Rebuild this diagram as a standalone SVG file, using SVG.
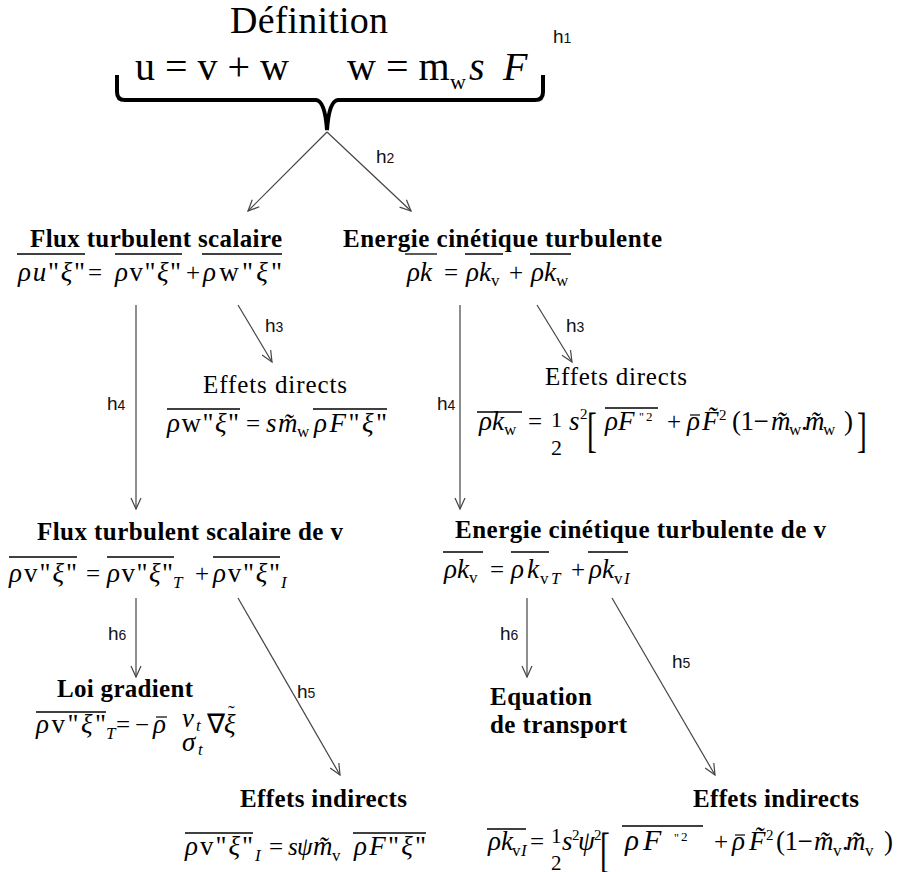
<svg xmlns="http://www.w3.org/2000/svg" width="898" height="872" viewBox="0 0 898 872">
<style>
svg{font-size:27px}
text{font-family:"Liberation Serif","Times New Roman",serif;fill:#000}
.b{font-weight:bold;font-size:25px}
.r{font-size:25px}
.o{font-size:25px}
.i{font-style:italic}
.s{font-size:17px}
.sp{font-size:15px}
.h{font-family:"Liberation Sans",Arial,sans-serif;font-size:19px;fill:#111}
.hs{font-size:14px}
.ol{stroke:#000;stroke-width:1.3}
.mc{stroke:#000;stroke-width:1.2}
.c{stroke:#444;stroke-width:1.2;fill:none}
</style>
<defs>
<marker id="ar" markerUnits="userSpaceOnUse" markerWidth="14" markerHeight="14" viewBox="0 0 14 14" refX="12" refY="6" orient="auto">
<path d="M1,1 L12,6 L1,11" fill="none" stroke="#444" stroke-width="1.2"/>
</marker>
</defs>
<rect width="898" height="872" fill="#fff"/>

<g id="definition">
<text x="230" y="33" font-size="38" textLength="158">Définition</text>
<text x="135" y="80" font-size="40">u = v + w</text>
<text x="347" y="80" font-size="40">w = m</text>
<text x="450" y="89" font-size="22">w</text>
<text x="469" y="80" font-size="40" class="i">s</text>
<text x="503" y="80" font-size="40" class="i">F</text>
<path d="M117,75 L117,92 Q117,100 125,100 L316,100 Q325,101 327,130 Q329,101 338,100 L535,100 Q543,100 543,92 L543,75" fill="none" stroke="#000" stroke-width="4"/>
<text class="h" x="553" y="43">h<tspan class="hs">1</tspan></text>
</g>

<g id="connectors">
<line class="c" x1="327" y1="132" x2="248" y2="211" marker-end="url(#ar)"/>
<line class="c" x1="327" y1="132" x2="411" y2="211" marker-end="url(#ar)"/>
<line class="c" x1="136" y1="305" x2="136" y2="509" marker-end="url(#ar)"/>
<line class="c" x1="238" y1="305" x2="272" y2="362" marker-end="url(#ar)"/>
<line class="c" x1="460" y1="305" x2="460" y2="509" marker-end="url(#ar)"/>
<line class="c" x1="537" y1="305" x2="572" y2="362" marker-end="url(#ar)"/>
<line class="c" x1="136" y1="598" x2="136" y2="677" marker-end="url(#ar)"/>
<line class="c" x1="238" y1="598" x2="340" y2="775" marker-end="url(#ar)"/>
<line class="c" x1="527" y1="598" x2="527" y2="677" marker-end="url(#ar)"/>
<line class="c" x1="612" y1="598" x2="715" y2="775" marker-end="url(#ar)"/>
<text class="h" x="376" y="163">h<tspan class="hs">2</tspan></text>
<text class="h" x="265" y="332">h<tspan class="hs">3</tspan></text>
<text class="h" x="566" y="332">h<tspan class="hs">3</tspan></text>
<text class="h" x="107" y="410">h<tspan class="hs">4</tspan></text>
<text class="h" x="437" y="410">h<tspan class="hs">4</tspan></text>
<text class="h" x="108" y="640">h<tspan class="hs">6</tspan></text>
<text class="h" x="500" y="640">h<tspan class="hs">6</tspan></text>
<text class="h" x="297" y="698">h<tspan class="hs">5</tspan></text>
<text class="h" x="672" y="668">h<tspan class="hs">5</tspan></text>
</g>

<g id="flux">
<text class="b" x="30" y="247" textLength="252">Flux turbulent scalaire</text>
<text x="18" y="281" textLength="67"><tspan class="i">ρu</tspan>"<tspan class="i">ξ</tspan>"</text>
<text x="88" y="281" class="o">=</text>
<text x="115" y="281" textLength="66"><tspan class="i">ρ</tspan>v"<tspan class="i">ξ</tspan>"</text>
<text x="186" y="281" class="o">+</text>
<text x="203" y="281" textLength="79"><tspan class="i">ρ</tspan>w"<tspan class="i">ξ</tspan>"</text>
<line class="ol" x1="17" y1="254" x2="85" y2="254"/>
<line class="ol" x1="115" y1="254" x2="182" y2="254"/>
<line class="ol" x1="202" y1="254" x2="282" y2="254"/>
</g>

<g id="energie">
<text class="b" x="343" y="247" textLength="319">Energie cinétique turbulente</text>
<text x="407" y="281" class="i">ρk</text>
<text x="444" y="281" class="o">=</text>
<text x="466" y="281" class="i">ρk</text>
<text x="491" y="286" class="s">v</text>
<text x="509" y="281" class="o">+</text>
<text x="531" y="281" class="i">ρk</text>
<text x="556" y="286" class="s">w</text>
<line class="ol" x1="405" y1="254" x2="437" y2="254"/>
<line class="ol" x1="465" y1="254" x2="503" y2="254"/>
<line class="ol" x1="530" y1="254" x2="571" y2="254"/>
</g>

<g id="directs-flux">
<text class="r" x="203" y="393" textLength="144">Effets  directs</text>
<text x="167" y="432" textLength="72"><tspan class="i">ρ</tspan>w"<tspan class="i">ξ</tspan>"</text>
<text x="246" y="432" class="o">=</text>
<text x="266" y="432" class="i">s</text>
<text x="278" y="432" class="i">m̃</text>
<text x="297" y="437" class="s">w</text>
<text x="314" y="432" textLength="73"><tspan class="i">ρF</tspan>"<tspan class="i">ξ</tspan>"</text>
<line class="ol" x1="167" y1="409" x2="240" y2="409"/>
<line class="ol" x1="313" y1="409" x2="387" y2="409"/>
</g>

<g id="directs-energie">
<text class="r" x="545" y="385" textLength="142">Effets  directs</text>
<text x="479" y="430" class="i">ρk</text>
<text x="504" y="435" class="s">w</text>
<line class="ol" x1="477" y1="412" x2="522" y2="412"/>
<text x="528" y="430" class="o">=</text>
<text x="551" y="427" font-size="22">1</text>
<text x="551" y="455" font-size="22">2</text>
<text x="569" y="430" class="i">s</text>
<text x="580" y="419" class="sp">2</text>
<text transform="translate(587,446) scale(0.7,1.15)" font-size="42">[</text>
<text x="605" y="430" class="i">ρF</text>
<text x="639" y="421" font-size="12">"</text>
<text x="646" y="421" font-size="13">2</text>
<line class="ol" x1="605" y1="408" x2="658" y2="408"/>
<text x="667" y="430" class="o">+</text>
<text x="687" y="430" class="i">ρ</text>
<line class="mc" x1="690" y1="415" x2="700" y2="415"/>
<text x="702" y="430" class="i">F̃</text>
<text x="719" y="420" class="sp">2</text>
<text x="732" y="430" letter-spacing="-0.5">(1−</text>
<text x="771" y="430" class="i">m̃</text>
<text x="789" y="435" class="s">w</text>
<text x="801" y="430">.</text>
<text x="805" y="430" class="i">m̃</text>
<text x="823" y="435" class="s">w</text>
<text x="844" y="430">)</text>
<text transform="translate(857,446) scale(0.7,1.15)" font-size="42">]</text>
</g>

<g id="flux-v">
<text class="b" x="37" y="540" textLength="306">Flux turbulent scalaire de v</text>
<text x="9" y="582" textLength="68"><tspan class="i">ρ</tspan>v"<tspan class="i">ξ</tspan>"</text>
<text x="86" y="582" class="o">=</text>
<text x="107" y="582" textLength="66"><tspan class="i">ρ</tspan>v"<tspan class="i">ξ</tspan>"</text>
<text x="173" y="588" class="s i">T</text>
<text x="195" y="582" class="o">+</text>
<text x="213" y="582" textLength="67"><tspan class="i">ρ</tspan>v"<tspan class="i">ξ</tspan>"</text>
<text x="281" y="588" class="s i">I</text>
<line class="ol" x1="9" y1="557" x2="77" y2="557"/>
<line class="ol" x1="107" y1="557" x2="174" y2="557"/>
<line class="ol" x1="213" y1="557" x2="280" y2="557"/>
</g>

<g id="energie-v">
<text class="b" x="455" y="538" textLength="371">Energie cinétique turbulente de v</text>
<text x="444" y="578" class="i">ρk</text>
<text x="469" y="583" class="s">v</text>
<text x="490" y="578" class="o">=</text>
<text x="511" y="578" class="i">ρ</text>
<text x="527" y="578" class="i">k</text>
<text x="540" y="584" class="s">v</text>
<text x="551" y="584" class="s i">T</text>
<text x="571" y="578" class="o">+</text>
<text x="589" y="578" class="i">ρk</text>
<text x="614" y="584" class="s">v</text>
<text x="624" y="584" class="s i">I</text>
<line class="ol" x1="443" y1="552" x2="483" y2="552"/>
<line class="ol" x1="511" y1="552" x2="549" y2="552"/>
<line class="ol" x1="588" y1="552" x2="628" y2="552"/>
</g>

<g id="loi-gradient">
<text class="b" x="57" y="697" textLength="136">Loi gradient</text>
<text x="36" y="733" textLength="70"><tspan class="i">ρ</tspan>v"<tspan class="i">ξ</tspan>"</text>
<text x="106" y="739" class="s i">T</text>
<line class="ol" x1="36" y1="712" x2="106" y2="712"/>
<text x="116" y="733" class="o">=</text>
<text x="135" y="733" class="o">−</text>
<text x="153" y="733" class="i">ρ</text>
<line class="mc" x1="156" y1="717" x2="167" y2="717"/>
<text x="182" y="727" class="i">ν</text>
<text x="196" y="731" class="s i">t</text>
<text x="182" y="751" class="i">σ</text>
<text x="198" y="755" class="s i">t</text>
<text x="207" y="733">∇</text>
<text x="224" y="733" class="i">ξ</text>
<text x="228" y="720" font-size="20">˜</text>
</g>

<g id="transport">
<text class="b" x="490" y="705" textLength="102">Equation</text>
<text class="b" x="490" y="733" textLength="137">de transport</text>
</g>

<g id="indirects-flux">
<text class="b" x="240" y="807" textLength="167">Effets indirects</text>
<text x="185" y="855" textLength="68"><tspan class="i">ρ</tspan>v"<tspan class="i">ξ</tspan>"</text>
<text x="255" y="861" class="s i">I</text>
<line class="ol" x1="185" y1="833" x2="253" y2="833"/>
<text x="269" y="855" class="o">=</text>
<text x="288" y="855" class="i" font-size="25">s</text>
<text x="297" y="855" class="i" font-size="25">ψ</text>
<text x="313" y="855" class="i">m̃</text>
<text x="332" y="861" class="s">v</text>
<text x="354" y="855" textLength="72"><tspan class="i">ρF</tspan>"<tspan class="i">ξ</tspan>"</text>
<line class="ol" x1="353" y1="833" x2="426" y2="833"/>
</g>

<g id="indirects-energie">
<text class="b" x="693" y="807" textLength="166">Effets indirects</text>
<text x="488" y="850" class="i">ρk</text>
<text x="512" y="856" class="s">v</text>
<text x="521" y="856" class="s i">I</text>
<line class="ol" x1="487" y1="829" x2="526" y2="829"/>
<text x="530" y="850" class="o">=</text>
<text x="551" y="843" font-size="21">1</text>
<text x="551" y="870" font-size="21">2</text>
<text x="562" y="850" class="i">s</text>
<text x="572" y="840" class="sp">2</text>
<text x="578" y="850" class="i">ψ</text>
<text x="594" y="840" class="sp">2</text>
<text transform="translate(600,866) scale(0.7,1.15)" font-size="42">[</text>
<text x="625" y="850" class="i" font-size="29">ρ</text>
<text x="643" y="850" class="i" font-size="30">F</text>
<text x="674" y="842" font-size="12">"</text>
<text x="681" y="841" font-size="13">2</text>
<line class="ol" x1="622" y1="826" x2="703" y2="826"/>
<text x="714" y="850" class="o">+</text>
<text x="732" y="850" class="i">ρ</text>
<line class="mc" x1="735" y1="835" x2="745" y2="835"/>
<text x="749" y="850" class="i">F̃</text>
<text x="766" y="840" class="sp">2</text>
<text x="776" y="850" letter-spacing="-0.5">(1−</text>
<text x="814" y="850" class="i">m̃</text>
<text x="833" y="856" class="s">v</text>
<text x="842" y="850">.</text>
<text x="846" y="850" class="i">m̃</text>
<text x="865" y="856" class="s">v</text>
<text x="884" y="850">)</text>
</g>
</svg>
